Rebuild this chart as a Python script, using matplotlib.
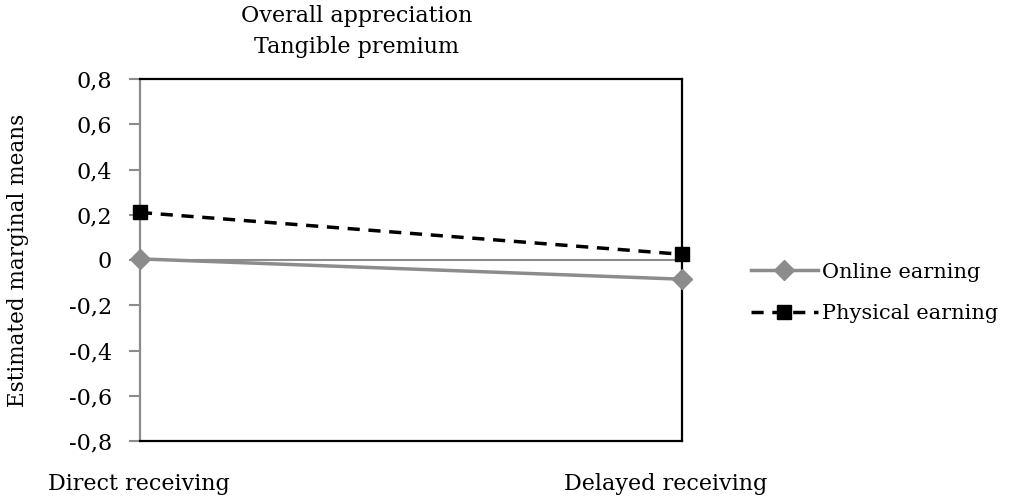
import matplotlib
matplotlib.use("Agg")
import matplotlib.pyplot as plt
from matplotlib.lines import Line2D

# Data
categories = ["Direct receiving", "Delayed receiving"]
online = [0.005, -0.085]
physical = [0.21, 0.025]
series_names = ["Online earning", "Physical earning"]
yticks = [-0.8, -0.6, -0.4, -0.2, 0.0, 0.2, 0.4, 0.6, 0.8]
ytick_labels = ["-0,8", "-0,6", "-0,4", "-0,2", "0", "0,2", "0,4", "0,6", "0,8"]

plt.rcParams["font.family"] = ["DejaVu Serif"]
GRAY = "#8c8c8c"
FS = 16

fig = plt.figure(figsize=(10.14, 5.0), dpi=100)
ax = fig.add_axes([0.138, 0.118, 0.535, 0.724])

x = [0, 1]
ax.axhline(0, color=GRAY, lw=1.5, zorder=1)
ax.plot(x, online, color=GRAY, lw=2.5, marker="D", ms=10, zorder=3, clip_on=False)
ax.plot(x, physical, color="black", lw=2.5, ls=(0, (3.5, 2.5)), marker="s", ms=10,
        zorder=4, clip_on=False)

ax.set_xlim(0, 1)
ax.set_ylim(-0.8, 0.8)
ax.set_yticks(yticks)
ax.set_yticklabels(ytick_labels, fontsize=FS)
ax.tick_params(axis="y", direction="out", length=8, width=1.5, color=GRAY, pad=12)
ax.set_xticks([])

ax.spines["left"].set_color(GRAY)
for s in ["top", "right", "bottom"]:
    ax.spines[s].set_color("black")
for s in ax.spines.values():
    s.set_linewidth(1.6)

fig.text(18 / 1014, 1 - 260 / 500, "Estimated marginal means", fontsize=15.5,
         rotation=90, ha="center", va="center")

# category labels under the axis
fig.text(139 / 1014, 1 - 484 / 500, categories[0], fontsize=FS, ha="center", va="center")
fig.text(666 / 1014, 1 - 484 / 500, categories[1], fontsize=FS, ha="center", va="center")

fig.text(357 / 1014, 1 - 16 / 500, "Overall appreciation", fontsize=FS, ha="center", va="center")
fig.text(357 / 1014, 1 - 47 / 500, "Tangible premium", fontsize=FS, ha="center", va="center")

handles = [
    Line2D([], [], color=GRAY, lw=2.5, marker="D", ms=10),
    Line2D([], [], color="black", lw=2.5, ls=(0, (3.5, 2.5)), marker="s", ms=10),
]
fig.legend(handles, series_names, loc="center left", bbox_to_anchor=(0.722, 0.414),
           frameon=False, fontsize=15, handlelength=3.2, handletextpad=0.2,
           labelspacing=1.1)

fig.savefig("out.png", dpi=100)
